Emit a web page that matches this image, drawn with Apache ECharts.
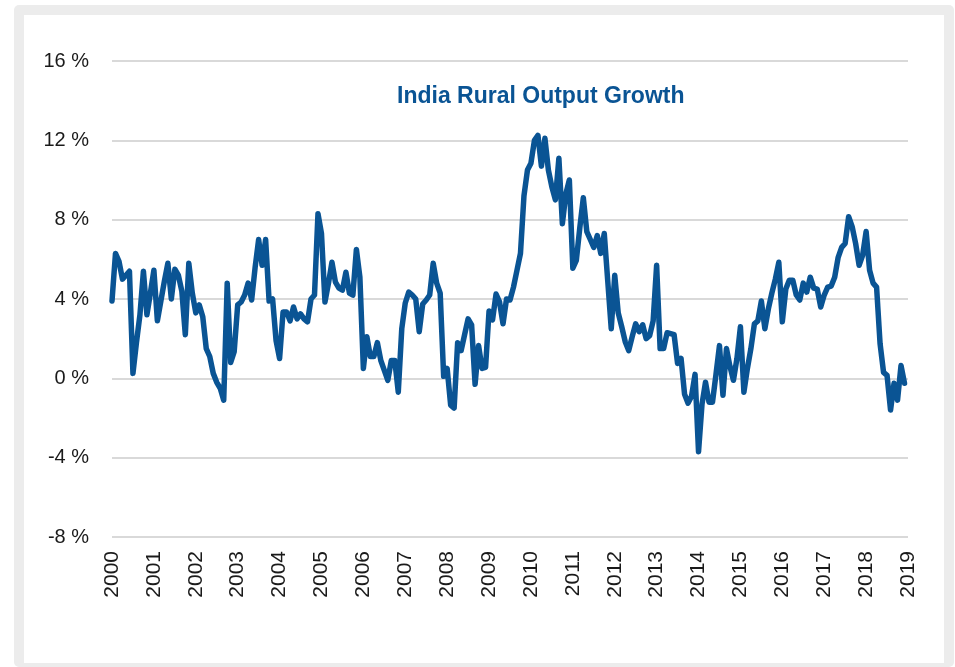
<!DOCTYPE html>
<html>
<head>
<meta charset="utf-8">
<script src="https://cdn.jsdelivr.net/npm/echarts@6/dist/echarts.min.js"></script>
<style>
    html, body {
        margin: 0;
        padding: 0;
        background: #ffffff;
    }
    .frame {
        position: absolute;
        left: 14px;
        top: 5px;
        width: 940px;
        height: 662px;
        background: #ececec;
        border-radius: 5px;
    }
    .panel {
        position: absolute;
        left: 24px;
        top: 15px;
        width: 920px;
        height: 648px;
        background: #ffffff;
    }
    #chart {
        position: absolute;
        left: 0;
        top: 0;
        width: 955px;
        height: 667px;
    }
</style>
</head>
<body>
<div class="frame"></div>
<div class="panel"></div>
<div id="chart"></div>

<script>
// monthly series, Jan 2000 .. Dec 2018 (% y/y)
const startYear = 2000
const endYear = 2019
const ruralGrowth = [
    3.9, 6.3, 5.9, 5.0, 5.2, 5.4, 0.25, 1.8, 3.2, 5.4, 3.2, 4.3,
    5.45, 2.9, 3.9, 4.9, 5.8, 4.0, 5.5, 5.2, 4.4, 2.2, 5.8, 4.3,
    3.3, 3.7, 3.1, 1.5, 1.1, 0.25, -0.2, -0.5, -1.1, 4.8, 0.8, 1.35,
    3.7, 3.85, 4.2, 4.8, 3.95, 5.6, 7.0, 5.7, 7.0, 3.9, 4.0, 1.9,
    1.0, 3.35, 3.35, 2.9, 3.6, 3.0, 3.25, 3.0, 2.85, 4.0, 4.2, 8.3,
    7.3, 3.85, 4.8, 5.85, 4.85, 4.55, 4.45, 5.35, 4.3, 4.2, 6.5, 5.1,
    0.5, 2.1, 1.1, 1.1, 1.8, 0.9, 0.4, -0.1, 0.9, 0.9, -0.7, 2.5,
    3.8, 4.35, 4.2, 4.0, 2.35, 3.75, 3.95, 4.2, 5.8, 4.8, 4.3, 0.1,
    0.5, -1.35, -1.5, 1.8, 1.4, 2.2, 3.0, 2.7, -0.3, 1.65, 0.5, 0.55,
    3.4, 2.95, 4.25, 3.85, 2.75, 4.0, 3.95, 4.6, 5.45, 6.3, 9.2, 10.5,
    10.85, 12.0, 12.25, 10.7, 12.1, 10.5, 9.65, 9.0, 11.1, 7.8, 9.3, 10.0,
    5.55, 5.95, 7.6, 9.1, 7.4, 7.0, 6.6, 7.2, 6.3, 7.3, 4.9, 2.5,
    5.2, 3.3, 2.6, 1.85, 1.4, 2.1, 2.75, 2.35, 2.7, 2.0, 2.15, 2.9,
    5.7, 1.5, 1.5, 2.3, 2.25, 2.2, 0.75, 1.0, -0.8, -1.25, -0.9, 0.2,
    -3.7, -1.3, -0.2, -1.2, -1.2, 0.2, 1.65, -0.85, 1.5, 0.6, -0.1, 1.0,
    2.6, -0.7, 0.5, 1.5, 2.75, 2.9, 3.9, 2.5, 3.5, 4.3, 5.0, 5.85,
    2.85, 4.5, 4.95, 4.95, 4.2, 3.95, 4.8, 4.35, 5.1, 4.55, 4.5, 3.6,
    4.2, 4.6, 4.65, 5.1, 6.1, 6.6, 6.8, 8.15, 7.65, 6.8, 5.7, 6.2,
    7.4, 5.45, 4.8, 4.6, 1.75, 0.3, 0.15, -1.6, -0.25, -1.1, 0.65, -0.25
]
const yTicks = { min: -8, max: 16, step: 4 }

const lineColor = '#0a5494'
const gridColor = '#d9d9d9'
const textColor = '#1a1a1a'

const seriesData = ruralGrowth.map((v, i) => [startYear + i / 12, v])

const lineOptions = {
    animation: false,
    title: {
        text: 'India Rural Output Growth',
        left: 392,
        top: 80,
        textStyle: {
            color: lineColor,
            fontFamily: 'Liberation Sans',
            fontWeight: 'bold',
            fontSize: 23
        }
    },
    grid: {
        left: 112,
        top: 61,
        width: 796,
        height: 476,
        containLabel: false
    },
    xAxis: {
        type: 'value',
        min: startYear,
        max: endYear,
        interval: 1,
        axisLine: { show: false },
        axisTick: { show: false },
        splitLine: { show: false },
        axisLabel: {
            rotate: 90,
            margin: 14,
            color: textColor,
            fontFamily: 'Liberation Sans',
            fontSize: 21,
            formatter: v => String(Math.round(v))
        }
    },
    yAxis: {
        type: 'value',
        min: yTicks.min,
        max: yTicks.max,
        interval: yTicks.step,
        axisLine: { show: false },
        axisTick: { show: false },
        splitLine: {
            lineStyle: { color: gridColor, width: 2 }
        },
        axisLabel: {
            margin: 23,
            color: textColor,
            fontFamily: 'Liberation Sans',
            fontSize: 20,
            formatter: v => v + ' %'
        }
    },
    series: [{
        type: 'line',
        data: seriesData,
        showSymbol: false,
        lineStyle: {
            color: lineColor,
            width: 5.5,
            join: 'round',
            cap: 'round'
        }
    }]
}

const chartInstance = echarts.init(document.getElementById('chart'))
chartInstance.setOption(lineOptions)
</script>
</body>
</html>
